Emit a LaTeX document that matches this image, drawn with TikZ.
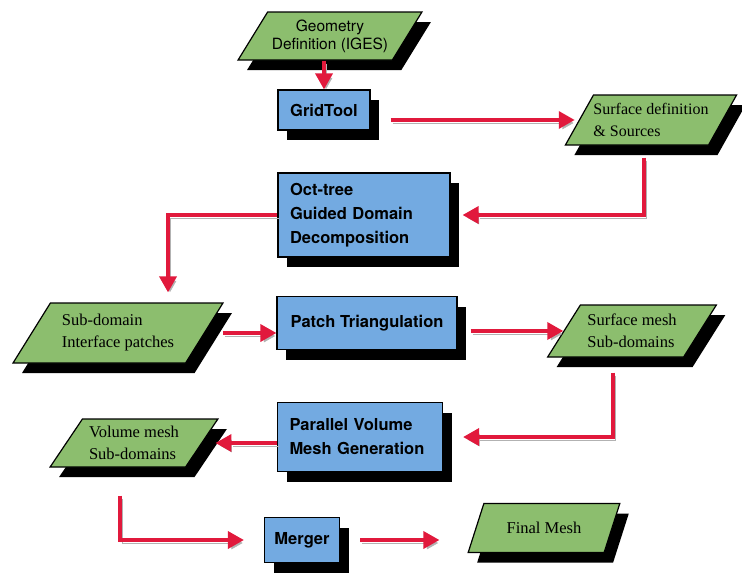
\documentclass[tikz,border=0pt]{standalone}
\usepackage{fontspec}
\setmainfont{Liberation Serif}
\setsansfont{TeX Gyre Heros}
\usetikzlibrary{shapes.geometric,shadows,arrows.meta,calc}
\definecolor{datagreen}{RGB}{140,190,110}
\definecolor{toolblue}{RGB}{115,170,225}
\definecolor{flowred}{RGB}{225,25,60}

\begin{document}
\begin{tikzpicture}[x=1pt,y=1pt,
		tool/.style={rectangle, draw=black, line width=1.2pt, fill=toolblue, inner sep=0pt,
			font=\sffamily\bfseries\fontsize{16.5}{24}\selectfont,
			drop shadow={shadow xshift=9pt, shadow yshift=-10pt, fill=black, opacity=1}},
		data/.style={trapezium, trapezium left angle=50, trapezium right angle=130,
			trapezium stretches=true, draw=black, line width=1.2pt, fill=datagreen,
			inner sep=0pt, align=left, font=\fontsize{16.5}{22}\selectfont,
			drop shadow={shadow xshift=9pt, shadow yshift=-10pt, fill=black, opacity=1}},
		flow/.style={draw=flowred, line width=3.5pt, -{Triangle[length=16pt,width=17pt]},
			preaction={draw=gray!60, transform canvas={shift={(2pt,-3pt)}}}}
	]
		\useasboundingbox (0,0) rectangle (742,-573);

		% inputs and tools
		\node[data, minimum width=184, minimum height=48, align=center,
			font=\sffamily\fontsize{15.5}{18}\selectfont] (geom) at (330,-36) {Geometry\\Definition (IGES)};
		\node[tool, minimum width=92, minimum height=40] (grid) at (324,-110) {GridTool};
		\node[data, minimum width=160, minimum height=50, font=\fontsize{16}{22}\selectfont] (surfdef) at (651,-120) {Surface definition\\\& Sources};
		\node[tool, minimum width=172, minimum height=84, text width=148, align=left] (octree) at (364,-215) {Oct-tree\\Guided Domain\\Decomposition};

		% surface meshing
		\node[data, minimum width=210, minimum height=60] (subdom) at (118,-333) {Sub-domain\\Interface patches};
		\node[tool, minimum width=180, minimum height=53] (patch) at (367,-323) {Patch Triangulation};
		\node[data, minimum width=169, minimum height=52] (surfmesh) at (632,-331) {Surface mesh\\Sub-domains};

		% volume meshing
		\node[tool, minimum width=165, minimum height=69, text width=141, align=left] (parvol) at (360,-437) {Parallel Volume\\Mesh Generation};
		\node[data, minimum width=168, minimum height=48] (volmesh) at (134,-443) {Volume mesh\\Sub-domains};
		\node[tool, minimum width=75, minimum height=45] (merger) at (302,-540) {Merger};
		\node[data, minimum width=152, minimum height=49] (final) at (544,-528) {Final Mesh};

		% flow
		\draw[flow] (geom.south -| grid.north) -- (grid.north);
		\draw[flow] ($(grid.east |- surfdef.west)+(20,0)$) -- ($(surfdef.west)+(-4,0)$);
		\draw[flow] ($(surfdef.south)+(-7,-12)$) |- ($(octree.east)+(12,0)$);
		\draw[flow] (octree.west) -| ($(subdom.north)+(50,10)$);
		\draw[flow] ($(subdom.east)+(18,0)$) -- (patch.west |- subdom.east);
		\draw[flow] ($(patch.east |- surfmesh.west)+(13,0)$) -- (surfmesh.west);
		\draw[flow] ($(surfmesh.south)+(-19,-15)$) |- ($(parvol.east)+(20,0)$);
		\draw[flow] (parvol.west |- volmesh.east) -- ($(volmesh.east)+(13,0)$);
		\draw[flow] ($(volmesh.south)+(-14,-28)$) |- ($(merger.west)+(-20,0)$);
		\draw[flow] ($(merger.east)+(20,0)$) -- ($(final.west |- merger.east)+(-36,0)$);
	\end{tikzpicture}
\end{document}
